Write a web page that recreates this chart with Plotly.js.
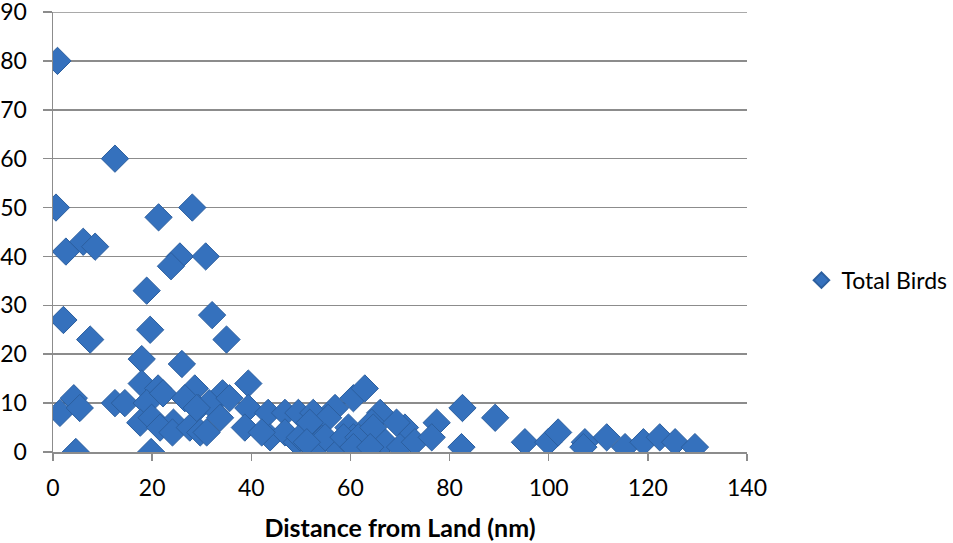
<!DOCTYPE html>
<html>
<head>
<meta charset="utf-8">
<script src="https://cdn.plot.ly/plotly-3.0.1.min.js"></script>
<style>
  html, body { margin: 0; padding: 0; background: #ffffff; }
  #chart { width: 953px; height: 543px; }
</style>
</head>
<body>
<div id="chart"></div>
<script>
// ── Data (distance nm, bird count) ──────────────────────────────

const distanceNm = [
  0.9, 0.6, 2.6, 6.1, 8.5, 12.5, 21.3, 28.1, 25.6, 23.8,
  30.8, 18.9, 2.1, 32.1, 7.5, 19.6, 35.0, 17.9, 26.0, 17.9,
  21.2, 28.6, 34.2, 39.4, 4.2, 1.4, 5.4, 12.5, 14.5, 18.9,
  22.2, 26.6, 29.3, 31.5, 35.6, 39.4, 17.6, 19.9, 24.3, 33.7,
  21.6, 24.1, 27.6, 29.7, 31.0, 38.7, 4.6, 19.8, 29.0,
  43.4, 43.8, 46.8, 46.8, 49.5, 49.2, 52.5, 52.5, 42.1, 49.8,
  54.5, 53.2, 57.2, 56.9, 55.5, 60.6, 62.9, 66.0, 64.3, 71.0,
  77.4, 82.6, 89.2, 59.6, 51.8, 54.9, 51.2, 60.6, 64.3, 67.0,
  70.0, 73.0, 76.4, 82.4, 58.6, 61.6, 64.6, 69.3, 60.6, 64.0,
  95.2, 99.9, 101.9, 107.3, 107.0, 111.7, 115.4, 119.1, 122.4, 125.5,
  129.5,
];

const totalBirds = [
  80, 50, 41, 43, 42, 60, 48, 50, 40, 38,
  40, 33, 27, 28, 23, 25, 23, 19, 18, 14,
  13, 13, 12, 14, 11, 8, 9, 10, 10, 10,
  12, 11, 9, 10, 11, 9, 6, 7, 6, 7,
  5, 4, 5, 4, 4, 5, 0, 0, 9,
  8, 3, 8, 4, 8, 2, 8, 4, 4, 3,
  3, 1, 1, 9, 7, 11, 13, 8, 6, 5,
  6, 9, 7, 5, 6, 3, 2, 3, 1, 2,
  1, 2, 3, 1, 3, 3, 5, 6, 1, 1,
  2, 2, 4, 2, 1, 3, 1, 2, 3, 2,
  1,
];

const xTicks = [0, 20, 40, 60, 80, 100, 120, 140];
const yTicks = [0, 10, 20, 30, 40, 50, 60, 70, 80, 90];

const SERIES_NAME = 'Total Birds';
const X_TITLE = 'Distance from Land (nm)';

// ── Styling ─────────────────────────────────────────────────────

const THEME = {
  marker: '#3571bd',
  markerEdge: '#2c5f9f',
  grid: '#8c8c8c',
  axis: '#8c8c8c',
  text: '#000000',
};

const FONT = "Lato, 'Open Sans', 'DejaVu Sans', sans-serif";

const yTop = yTicks[yTicks.length - 1];

const traces = [{
  x: distanceNm,
  y: totalBirds,
  type: 'scatter',
  mode: 'markers',
  name: SERIES_NAME,
  marker: {
    symbol: 'diamond',
    size: 21,
    color: THEME.marker,
    line: { color: THEME.markerEdge, width: 1 },
  },
  hovertemplate: '%{x} nm: %{y}<extra></extra>',
}];

const layout = {
  width: 953,
  height: 543,
  paper_bgcolor: '#ffffff',
  plot_bgcolor: '#ffffff',
  font: { family: FONT, color: THEME.text, size: 23 },
  margin: { l: 53, r: 206, t: 12, b: 91, autoexpand: false },
  showlegend: true,
  legend: {
    xref: 'container', yref: 'container',
    x: 0.841, xanchor: 'left',
    y: 0.484, yanchor: 'middle',
    font: { family: FONT, size: 23, color: THEME.text },
    itemsizing: 'constant',
    bgcolor: 'rgba(0,0,0,0)',
  },
  // top gridline sits on the plot edge, Plotly skips it there
  shapes: [{
    type: 'line', layer: 'below',
    xref: 'paper', x0: -9 / 694, x1: 1,
    yref: 'y', y0: yTop, y1: yTop,
    line: { color: THEME.grid, width: 1.5 },
  }],
  xaxis: {
    range: [0, 140],
    tickmode: 'array',
    tickvals: xTicks,
    ticktext: xTicks.map(String),
    showgrid: false,
    zeroline: false,
    showline: true,
    linecolor: THEME.axis,
    linewidth: 1.5,
    ticks: 'outside',
    ticklen: 7,
    tickwidth: 1.5,
    tickcolor: THEME.axis,
    ticklabelstandoff: 8,
    automargin: false,
    tickfont: { family: FONT, size: 23, color: THEME.text },
    title: {
      text: X_TITLE,
      font: { family: FONT, size: 25, color: THEME.text, weight: 'bold' },
      standoff: 19,
    },
  },
  yaxis: {
    range: [yTicks[0], yTop],
    tickmode: 'array',
    tickvals: yTicks,
    ticktext: yTicks.map(String),
    ticklabeloverflow: 'allow',
    showgrid: true,
    gridcolor: THEME.grid,
    gridwidth: 1.5,
    zeroline: false,
    showline: true,
    linecolor: THEME.axis,
    linewidth: 1.5,
    ticks: 'outside',
    ticklen: 9,
    tickwidth: 1.5,
    tickcolor: THEME.axis,
    ticklabelstandoff: 11,
    automargin: false,
    tickfont: { family: FONT, size: 23, color: THEME.text },
  },
};

Plotly.newPlot('chart', traces, layout, { displayModeBar: false, staticPlot: true });
</script>
</body>
</html>
